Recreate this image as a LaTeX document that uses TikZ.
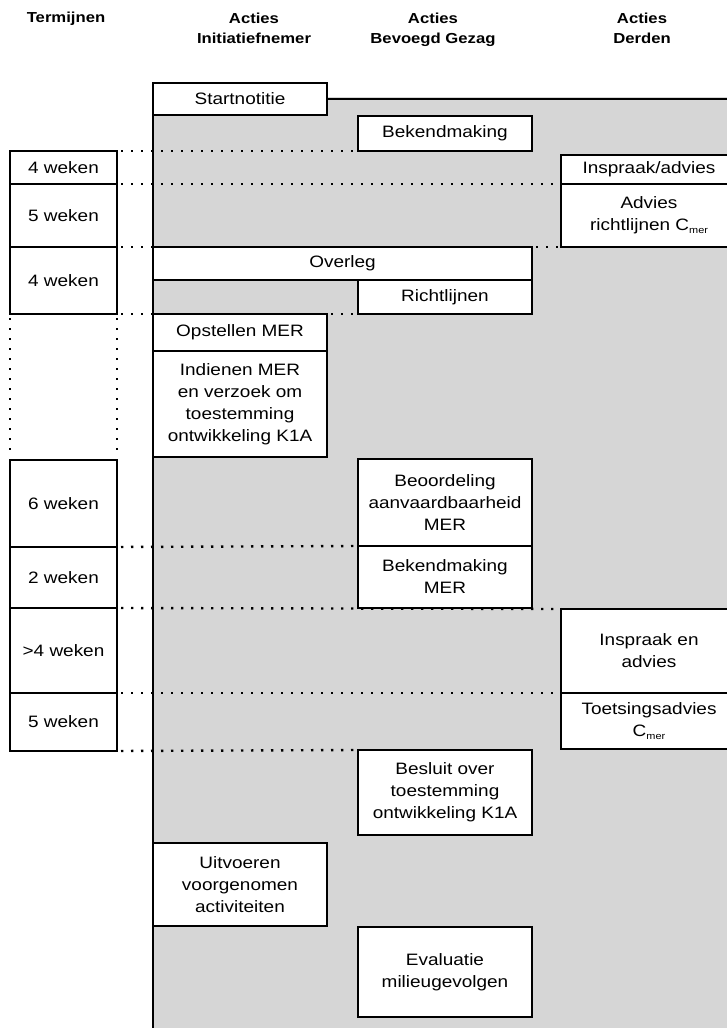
\documentclass[tikz,border=0pt]{standalone}
\usepackage{fontspec}
\setmainfont[FakeStretch=1.15]{Liberation Sans}
\begin{document}
\begin{tikzpicture}[x=1pt,y=-1pt,
  blok/.style={draw,fill=white,line width=1.6pt,inner sep=1pt,outer sep=0pt,anchor=north west,align=center,font=\fontsize{16.5}{22}\selectfont},
  termijn/.style={blok,minimum width=107pt},
  actie/.style={blok,minimum width=174pt},
  derden/.style={blok,minimum width=176pt},
  kop/.style={align=center,anchor=north,inner sep=0pt,font=\bfseries\fontsize{14.5}{20}\selectfont},
  stippel/.style={line width=2.4pt,dash pattern=on 2.4pt off 7.6pt,shorten <=4pt}]
        \useasboundingbox (0,0) rectangle (727,1028);
        \clip (0,0) rectangle (727,1028);
        \fill[white] (0,0) rectangle (727,1028);
        \fill[gray!32] (153,97) rectangle (727,1028);

        \node[kop] (kopT) at (66,12) {Termijnen};
        \node[kop] (kopI) at (254,13) {Acties\\Initiatiefnemer};
        \node[kop] (kopB) at (433,13) {Acties\\Bevoegd Gezag};
        \node[kop] (kopD) at (642,13) {Acties\\Derden};

        \node[actie,minimum height=32pt] (start) at (153,83) {Startnotitie};
        \draw[line width=1.6pt] (start.east) -- ++(420,0);
        \draw[line width=1.6pt] (start.south west) -- (153,1028);

        \node[termijn,minimum height=33pt] (t1) at (10,151) {4 weken};
        \node[termijn,minimum height=63pt] (t2) at (t1.south west) {5 weken};
        \node[termijn,minimum height=67pt] (t3) at (t2.south west) {4 weken};
        \node[termijn,minimum height=146pt,draw=none,fill=none] (t4) at (t3.south west) {};
        \node[termijn,minimum height=87pt] (t5) at (t4.south west) {6 weken};
        \node[termijn,minimum height=61pt] (t6) at (t5.south west) {2 weken};
        \node[termijn,minimum height=85pt] (t7) at (t6.south west) {>4 weken};
        \node[termijn,minimum height=58pt] (t8) at (t7.south west) {5 weken};

        \node[actie,minimum height=35pt] (bek) at (358,116) {Bekendmaking};
        \node[derden,minimum height=29pt] (insp) at (561,155) {Inspraak/advies};
        \node[derden,minimum height=63pt] (adv) at (insp.south west) {Advies\\richtlijnen C\raisebox{-3pt}{\fontsize{9.5}{9.5}\selectfont mer}};
        \node[blok,minimum width=379pt,minimum height=33pt] (overleg) at (153,247) {Overleg};
        \node[actie,minimum height=34pt] (richt) at (358,280) {Richtlijnen};
        \node[actie,minimum height=37pt] (opst) at (153,314) {Opstellen MER};
        \node[actie,minimum height=106pt] (indien) at (opst.south west) {Indienen MER\\en verzoek om\\toestemming\\ontwikkeling K1A};
        \node[actie,minimum height=87pt] (beoord) at (358,459) {Beoordeling\\aanvaardbaarheid\\MER};
        \node[actie,minimum height=62pt] (bekmer) at (beoord.south west) {Bekendmaking\\MER};
        \node[derden,minimum height=84pt] (insp2) at (561,609) {Inspraak en\\advies};
        \node[derden,minimum height=56pt] (toets) at (insp2.south west) {Toetsingsadvies\\C\raisebox{-3pt}{\fontsize{9.5}{9.5}\selectfont mer}};
        \node[actie,minimum height=85pt] (besluit) at (358,750) {Besluit over\\toestemming\\ontwikkeling K1A};
        \node[actie,minimum height=83pt] (uitv) at (153,843) {Uitvoeren\\voorgenomen\\activiteiten};
        \node[actie,minimum height=90pt] (eval) at (358,927) {Evaluatie\\milieugevolgen};

        \draw[stippel] (t1.north east) -- (bek.south west);
        \draw[stippel] (t1.south east) -- (insp.south west);
        \draw[stippel] (t2.south east) -- (overleg.north west);
        \draw[stippel] (overleg.north east) -- (adv.south west);
        \draw[stippel] (t3.south east) -- (opst.north west);
        \draw[stippel] (opst.north east) -- (richt.south west);
        \draw[stippel,shorten >=6pt] (t4.north west) -- (t4.south west);
        \draw[stippel,shorten >=6pt] (t4.north east) -- (t4.south east);
        \draw[stippel] (t5.south east) -- (bekmer.north west);
        \draw[stippel] (t6.south east) -- (insp2.north west);
        \draw[stippel] (t7.south east) -- (toets.north west);
        \draw[stippel] (t8.south east) -- (besluit.north west);
\end{tikzpicture}
\end{document}
